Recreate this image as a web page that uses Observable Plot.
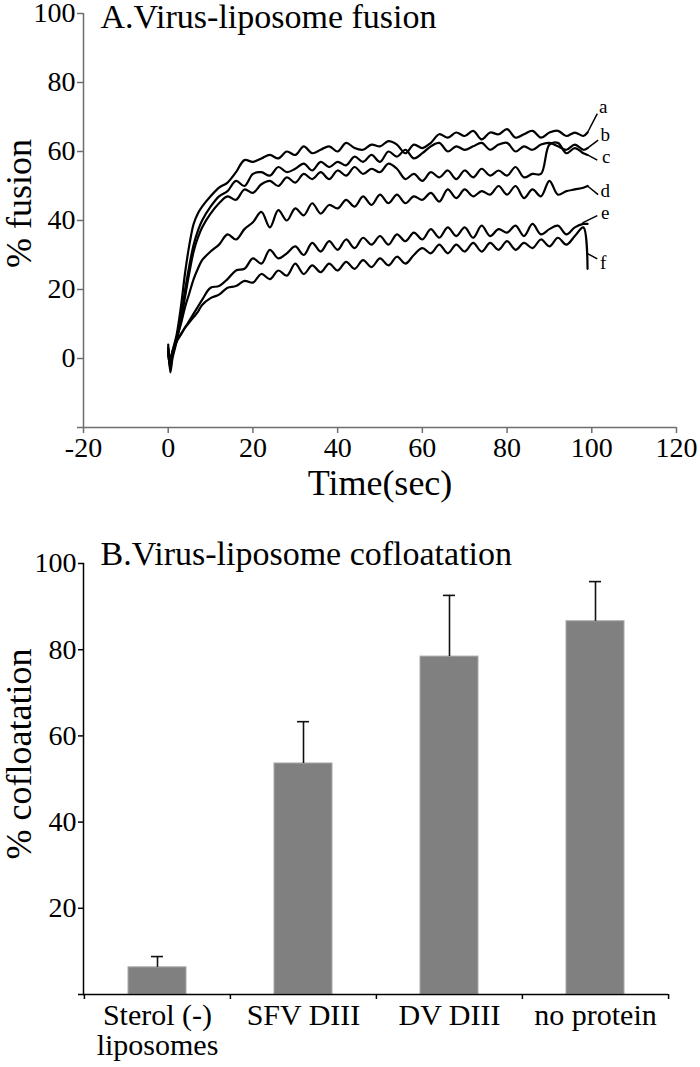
<!DOCTYPE html>
<html><head><meta charset="utf-8">
<script src="https://cdn.jsdelivr.net/npm/d3@7"></script>
<script src="https://cdn.jsdelivr.net/npm/@observablehq/plot@0.6"></script>
<style>html,body{margin:0;padding:0;background:#fff}#chart svg{display:block}</style>
</head><body><div id="chart"></div>
<script>
// ---------- Panel A data ----------
const time = [0,0.5,1,2,3,4,5,6,7,8, 10,12,14,16,18,20,22,24,26,28, 30,32,34,36,38,40,42,44,46,48, 50,52,54,56,58,60,62,64,66,68, 70,72,74,76,78,80,82,84,86,88, 90,92,94,96,98,99];
const seriesNames = ["a","b","c","d","e","f"];
const curveA = [3,-2,2,7,15,25,33,39,42,44, 47,49.5,51,54,57.5,57,58,59,58,60, 59,61.5,59.5,60.5,61.5,60,62.5,61,60.5,62, 61.5,63,62,59.5,62,61,62.5,65,64,65.5, 64.5,66,63.5,65.5,65,66.5,64,65,66,64, 65.5,66,64.5,65.5,64.5,65.5];
const curveB = [2,-3,1,6,12,20,27,33,37,40, 44,47,48.5,51.5,50,53.5,54,53,55.5,54, 55,56.5,54.5,57,55.5,57,56,58.5,57,59, 57,60,58.5,60.5,58,59.5,61.5,62.5,60,61.5, 60.5,61.5,62.5,60.5,62,62.5,60,61.5,60.5,62, 62.5,61.5,60.5,62,60.5,61];
const curveC = [4,-4,0,5,11,18,25,31,35,38, 42,45,47,46,49,48,50.5,51.5,50,52.5, 51,53.5,52,54,52,54.5,53,55.5,53.5,55, 54,56.5,55,52,53.5,51.5,54,52.5,54.5,52, 54.5,52.5,55,53,54.5,53,55.5,52.5,53.5,53.5, 62,62.5,59.5,61,59.5,59];
const curveD = [3,0,2,6,10,15,19,23,26,28.5, 31,33,36,34.5,37.5,39.5,42.5,38,43,40, 43.5,41.5,45,42,44.5,43.5,46,44,47,44.5, 47.5,45,47.5,45,47,46,48,45.5,49,46.5, 49,47,48.5,47.5,50,47.5,50,46.5,49,47, 51.5,47.5,48.5,49,49.5,50];
const curveE = [2,-1,1,5,7,9,11,13,15,17, 20.5,21,23,25.5,26,29,27.5,31.5,29,30.5, 32.5,30,33.5,31,34,31.5,34.5,32,35,33, 35.5,33,36,34,36.5,34.5,37.5,35,38,35.5, 38,35,38.5,35.5,37.5,36.5,38.5,35.5,39,36, 37.5,38.5,36,38,39,39];
const curveF = [1,-2,2,5,7,9,10.5,12,13.5,15.5, 17.5,18.5,20.5,21,22.5,22,24.5,23,25.5,24, 27.5,24.5,27,25,27.5,25.5,28,26,28.5,26.5, 29,27,29.5,27.5,30,32,30.5,33,30.5,33, 31,33.5,31,33.5,31.5,34,31.5,33.5,32,34.5, 32.5,35,33,35.5,38,26];
const xTicksA = [-20,0,20,40,60,80,100,120];
const yTicksA = [-20,0,20,40,60,80,100];
const yTickLabelsA = [0,20,40,60,80,100];
// curve labels and their leader lines
const letterT = [102.7,103.2,103.4,103.2,103.2,102.7];
const letterV = [73,64.8,58.4,48.6,42.2,27.8];
const leaderT1 = [99,99,99,99,97.8,99];
const leaderV1 = [65.5,61,59,50,39.3,30.4];
const leaderT2 = [101.3,101.5,101.3,101.5,101.3,101.3];
const leaderV2 = [71,63.3,57.5,47.5,41.4,28.9];
const titleA = "A.Virus-liposome fusion";
const xLabelA = "Time(sec)";
const yLabelA = "% fusion";

// ---------- Panel B data ----------
const categories = ["Sterol (-)\nliposomes","SFV DIII","DV DIII","no protein"];
const cofloat = [6.3,53.6,78.4,86.6];
const cofloatErr = [2.5,9.7,14.2,9.2];
const yTicksB = [0,20,40,60,80,100];
const yTickLabelsB = [20,40,60,80,100];
const titleB = "B.Virus-liposome cofloatation";
const yLabelB = "% cofloatation";

const serif = "'Liberation Serif','Times New Roman',serif";
const curves = [curveA,curveB,curveC,curveD,curveE,curveF];
const fusionRows = [];
seriesNames.forEach((s,k) => time.forEach((t,i) => fusionRows.push({series:s, t, v:curves[k][i]})));
const letterRows = seriesNames.map((s,i) => ({s, t:letterT[i], v:letterV[i], t1:leaderT1[i], v1:leaderV1[i], t2:leaderT2[i], v2:leaderV2[i]}));

const axisGrey = "#6e6e6e";
const txt = {fontFamily: serif, fill: "black"};
const plotA = Plot.plot({
  width: 700, height: 510,
  marginLeft: 83, marginRight: 24, marginTop: 13, marginBottom: 83,
  style: {fontFamily: serif, background: "white", color: "black", overflow: "visible"},
  x: {domain: [-20,120], label: null},
  y: {domain: [-20,100], label: null},
  marks: [
    Plot.ruleX([-20], {stroke: axisGrey, strokeWidth: 1.5}),
    Plot.ruleY([-20], {stroke: axisGrey, strokeWidth: 1.5}),
    Plot.axisY(yTicksA, {tickSize: 6, stroke: axisGrey, strokeWidth: 1.5, label: null, tickFormat: () => ""}),
    Plot.axisX(xTicksA, {tickSize: 6, stroke: axisGrey, strokeWidth: 1.5, label: null, tickFormat: () => ""}),
    Plot.text(yTickLabelsA, {...txt, y: d => d, text: d => String(d), frameAnchor: "left", dx: -8, fontSize: 28, textAnchor: "end", lineAnchor: "middle"}),
    Plot.text(xTicksA, {...txt, x: d => d, text: d => String(d), frameAnchor: "bottom", dy: 10, fontSize: 28, textAnchor: "middle", lineAnchor: "top"}),
    Plot.line(fusionRows, {x: "t", y: "v", z: "series", stroke: "black", strokeWidth: 2.2, curve: "catmull-rom"}),
    Plot.link(letterRows, {x1: "t1", y1: "v1", x2: "t2", y2: "v2", stroke: "black", strokeWidth: 1.5}),
    Plot.text(letterRows, {...txt, x: "t", y: "v", text: "s", fontSize: 19, textAnchor: "middle", lineAnchor: "middle"}),
    Plot.text([titleA], {...txt, text: d => d, frameAnchor: "top-left", dx: 17, dy: 4, fontSize: 34, textAnchor: "start", lineAnchor: "middle"}),
    Plot.text([xLabelA], {...txt, text: d => d, frameAnchor: "bottom", dy: 56, fontSize: 36, lineAnchor: "middle"}),
    Plot.text([yLabelA], {...txt, text: d => d, frameAnchor: "left", dx: -64, dy: -17, rotate: -90, fontSize: 36, textAnchor: "middle", lineAnchor: "middle"})
  ]
});

const rowsB = categories.map((c,i) => ({c, v: cofloat[i], e: cofloatErr[i]}));
const plotB = Plot.plot({
  width: 700, height: 557,
  marginLeft: 83, marginRight: 32, marginTop: 53, marginBottom: 73,
  style: {fontFamily: serif, background: "white", color: "black", overflow: "visible"},
  x: {domain: categories, padding: 0, label: null},
  y: {domain: [0,100], label: null},
  marks: [
    Plot.barY(rowsB, {x: "c", y: "v", fill: "#808080", stroke: "#a8a8a8", strokeWidth: 1, insetLeft: 44, insetRight: 44}),
    Plot.ruleX(rowsB, {x: "c", y1: "v", y2: d => d.v + d.e, stroke: "#111", strokeWidth: 1.6}),
    Plot.tickY(rowsB, {x: "c", y: d => d.v + d.e, stroke: "#111", strokeWidth: 1.6, insetLeft: 67, insetRight: 67}),
    Plot.frame({anchor: "left", stroke: "black", strokeWidth: 1.5}),
    Plot.ruleY([0], {stroke: "black", strokeWidth: 1.5}),
    Plot.axisY(yTicksB, {tickSize: 5, strokeWidth: 1.5, label: null, tickFormat: () => ""}),
    Plot.text(yTickLabelsB, {...txt, y: d => d, text: d => String(d), frameAnchor: "left", dx: -7, fontSize: 28, textAnchor: "end", lineAnchor: "middle"}),
    Plot.text(categories, {...txt, x: d => d, text: d => d, frameAnchor: "bottom", dy: 9, fontSize: 30, lineHeight: 1, textAnchor: "middle", lineAnchor: "top"}),
    Plot.axisX(categories, {tickSize: 5, strokeWidth: 1.5, label: null, tickFormat: () => "", dx: -73.1}),
    Plot.axisX(categories.slice(-1), {tickSize: 5, strokeWidth: 1.5, label: null, tickFormat: () => "", dx: 73.1}),
    Plot.text([titleB], {...txt, text: d => d, frameAnchor: "top-left", dx: 17, dy: -9, fontSize: 34, textAnchor: "start", lineAnchor: "middle"}),
    Plot.text([yLabelB], {...txt, text: d => d, frameAnchor: "left", dx: -64, dy: -25, rotate: -90, fontSize: 36, textAnchor: "middle", lineAnchor: "middle"})
  ]
});

const chart = document.getElementById("chart");
chart.appendChild(plotA);
chart.appendChild(plotB);
</script>
</body></html>
